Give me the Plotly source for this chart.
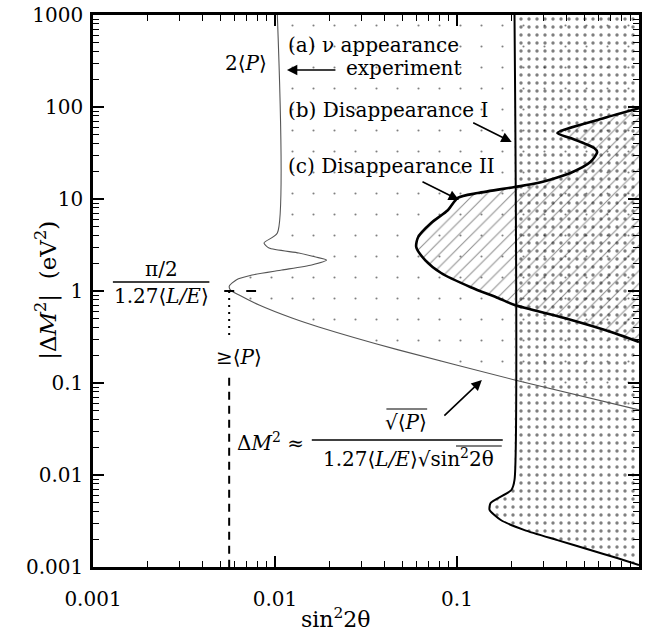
import plotly.graph_objects as go

# ---------------- data ----------------
X_MIN, X_MAX = 0.001, 1.0
Y_MIN, Y_MAX = 0.001, 1000.0

# (a) nu appearance experiment boundary
a_sin2 = [0.0103, 0.0103, 0.0087, 0.00927, 0.01352, 0.01675, 0.0192, 0.0159,
          0.0109, 0.00748, 0.00612, 0.00561, 0.00568, 0.00635, 0.00818, 0.0124,
          0.0174, 0.0476, 0.2075, 1.0]
a_dm2 = [1000, 4.27, 3.33, 2.93, 2.59, 2.34, 2.17, 1.92,
         1.69, 1.49, 1.32, 1.13, 1.03, 0.905, 0.705, 0.509,
         0.407, 0.229, 0.108, 0.051]

# (b) Disappearance I boundary
b_sin2 = [0.207, 0.207, 0.199, 0.153, 0.151, 0.174, 0.235, 0.356, 0.540, 0.758, 1.0]
b_dm2 = [1000, 0.00883, 0.00687, 0.00496, 0.00417, 0.00324, 0.00252, 0.00196,
         0.00153, 0.00125, 0.00105]

# (c) Disappearance II boundary
c_sin2 = [1.0, 0.644, 0.356, 0.42, 0.567, 0.589, 0.54, 0.42, 0.277, 0.2075,
          0.130, 0.101, 0.0893, 0.0721, 0.0612, 0.0597, 0.0668, 0.0818, 0.119,
          0.168, 0.2075, 0.389, 0.73, 1.0]
c_dm2 = [97, 76, 52, 46, 35.8, 32.4, 25.2, 19.2, 14.9, 13.5,
         11.6, 10.3, 7.59, 5.48, 3.86, 3.0, 2.17, 1.57, 1.10,
         0.84, 0.705, 0.509, 0.35, 0.279]

# markers of the analytic limits
P_MIN = 0.0056          # sin^2 2theta >= <P>
DM_KNEE = 1.0           # pi/2 / (1.27 <L/E>)
dash_top = 0.114
dot_bottom = 0.32
tbar_x = [0.00526, 0.00597]
tdash_x = [0.00695, 0.00787]

x_ticks = [0.001, 0.01, 0.1, 1]
x_ticktext = ["0.001", "0.01", "0.1", "1"]
y_ticks = [0.001, 0.01, 0.1, 1, 10, 100, 1000]
y_ticktext = ["0.001", "0.01", "0.1", "1", "10", "100", "1000"]

# ---------------- figure ----------------
W, H = 645, 636
L, R, T, B = 93, 3, 15, 69
PW, PH = W - L - R, H - T - B


def pp(px, py):
    return (px - L) / PW, (H - B - py) / PH


FONT = "DejaVu Serif"
fig = go.Figure()

# fills
fig.add_trace(go.Scatter(
    x=a_sin2 + [X_MAX, X_MAX], y=a_dm2 + [a_dm2[-1], Y_MAX],
    fill="toself", mode="none", fillcolor="rgba(0,0,0,0)",
    line_shape="spline",
    fillpattern=dict(shape=".", size=21, solidity=0.008, fgcolor="black",
                     bgcolor="rgba(0,0,0,0)"),
    hoverinfo="skip", showlegend=False))
fig.add_trace(go.Scatter(
    x=c_sin2, y=c_dm2,
    fill="toself", mode="none", fillcolor="rgba(0,0,0,0)",
    line_shape="spline",
    fillpattern=dict(shape="/", size=9, solidity=0.12, fgcolor="#222",
                     bgcolor="rgba(0,0,0,0)"),
    hoverinfo="skip", showlegend=False))
fig.add_trace(go.Scatter(
    x=b_sin2 + [X_MAX], y=b_dm2 + [Y_MAX],
    fill="toself", mode="none", fillcolor="rgba(0,0,0,0)",
    fillpattern=dict(shape=".", size=8, solidity=0.14, fgcolor="black",
                     bgcolor="rgba(0,0,0,0)"),
    hoverinfo="skip", showlegend=False))

# boundary lines
fig.add_trace(go.Scatter(x=a_sin2, y=a_dm2, mode="lines",
                         line=dict(color="#555", width=1.1, shape="spline", smoothing=0.6),
                         hoverinfo="skip", showlegend=False))
fig.add_trace(go.Scatter(x=b_sin2, y=b_dm2, mode="lines",
                         line=dict(color="black", width=2, shape="spline", smoothing=0.6),
                         hoverinfo="skip", showlegend=False))
fig.add_trace(go.Scatter(x=c_sin2, y=c_dm2, mode="lines",
                         line=dict(color="black", width=2.6, shape="spline", smoothing=0.7),
                         hoverinfo="skip", showlegend=False))

# limit markers
fig.add_trace(go.Scatter(x=[P_MIN, P_MIN], y=[dash_top, Y_MIN], mode="lines",
                         line=dict(color="black", width=2, dash="8px,6px"),
                         hoverinfo="skip", showlegend=False))
fig.add_trace(go.Scatter(x=[P_MIN, P_MIN], y=[DM_KNEE, dot_bottom], mode="lines",
                         line=dict(color="black", width=2, dash="2px,5px"),
                         hoverinfo="skip", showlegend=False))
fig.add_trace(go.Scatter(x=tbar_x, y=[DM_KNEE, DM_KNEE], mode="lines",
                         line=dict(color="black", width=2),
                         hoverinfo="skip", showlegend=False))
fig.add_trace(go.Scatter(x=tdash_x, y=[DM_KNEE, DM_KNEE], mode="lines",
                         line=dict(color="black", width=2),
                         hoverinfo="skip", showlegend=False))

# ---------------- annotations ----------------
ann = []


def text(px, py, s, anchor="left", size=20):
    x, y = pp(px, py)
    ann.append(dict(x=x, y=y, xref="paper", yref="paper", text=s, showarrow=False,
                    xanchor=anchor, yanchor="middle",
                    font=dict(family=FONT, size=size, color="black")))


def arrow(hx, hy, tx, ty):
    x, y = pp(hx, hy)
    ann.append(dict(x=x, y=y, xref="paper", yref="paper", text="", showarrow=True,
                    ax=tx - hx, ay=ty - hy, arrowhead=2, arrowsize=1.3,
                    arrowwidth=1.6, arrowcolor="black"))


text(270, 63, "2⟨<i>P</i>⟩", "right")
text(287, 45, "(a) ν appearance")
text(345, 68, "experiment")
arrow(288, 70, 338, 70)
text(287, 110, "(b) Disappearance I")
arrow(514, 142, 474, 122)
text(287, 166, "(c) Disappearance II")
arrow(461, 200, 423, 181)

text(162, 269, "π/2", "center")
text(162, 296, "1.27⟨<i>L/E</i>⟩", "center")
text(240, 357, "≥⟨<i>P</i>⟩", "center")

text(236, 442, "Δ<i>M</i><sup>2</sup> ≈")
text(408, 422, "√⟨<i>P</i>⟩", "center")
text(410, 458, "1.27⟨<i>L/E</i>⟩√sin<sup>2</sup>2θ", "center")
arrow(484, 380, 445, 417)

# axis titles
x, y = pp(28, 290)
ann.append(dict(x=x, y=y, xref="paper", yref="paper", showarrow=False, textangle=-90,
                text="|Δ<i>M</i><sup>2</sup>|  (eV<sup>2</sup>)",
                font=dict(family=FONT, size=23, color="black")))
text(337, 618, "sin<sup>2</sup>2θ", "center", 22)

# fraction bars and overlines
shapes = []


def hline(x0, x1, py, w=1.6):
    a0, b0 = pp(x0, py)
    a1, _ = pp(x1, py)
    shapes.append(dict(type="line", xref="paper", yref="paper", x0=a0, x1=a1,
                       y0=b0, y1=b0, line=dict(color="black", width=w)))


hline(113, 210, 282)
hline(313, 505, 440)
hline(388, 429, 409, 1.2)
hline(458, 504, 446, 1.2)

axis_common = dict(
    type="log", showgrid=False, zeroline=False,
    showline=True, linecolor="black", linewidth=2.5, mirror="ticks",
    ticks="inside", ticklen=11, tickwidth=1.6, tickcolor="black",
    tickfont=dict(family=FONT, size=20, color="black"),
)
minor_x = [k * 10 ** e for e in range(-3, 0) for k in range(2, 10)]
minor_y = [k * 10 ** e for e in range(-3, 3) for k in range(2, 10)]

fig.update_layout(
    width=W, height=H, margin=dict(l=L, r=R, t=T, b=B),
    paper_bgcolor="white", plot_bgcolor="white",
    xaxis=dict(axis_common, range=[-3, 0], tickvals=x_ticks, ticktext=x_ticktext,
               ticklabelstandoff=12,
               minor=dict(ticks="inside", ticklen=6, tickwidth=1.4, tickcolor="black",
                          tickvals=minor_x, showgrid=False)),
    yaxis=dict(axis_common, range=[-3, 3], tickvals=y_ticks, ticktext=y_ticktext,
               ticklabelstandoff=3,
               minor=dict(ticks="inside", ticklen=6, tickwidth=1.4, tickcolor="black",
                          tickvals=minor_y, showgrid=False)),
    annotations=ann, shapes=shapes,
)

fig.write_html("out.html",
               config={"displayModeBar": False},
               post_script="document.body.style.margin='0';"
                           "document.body.style.overflow='hidden';")
